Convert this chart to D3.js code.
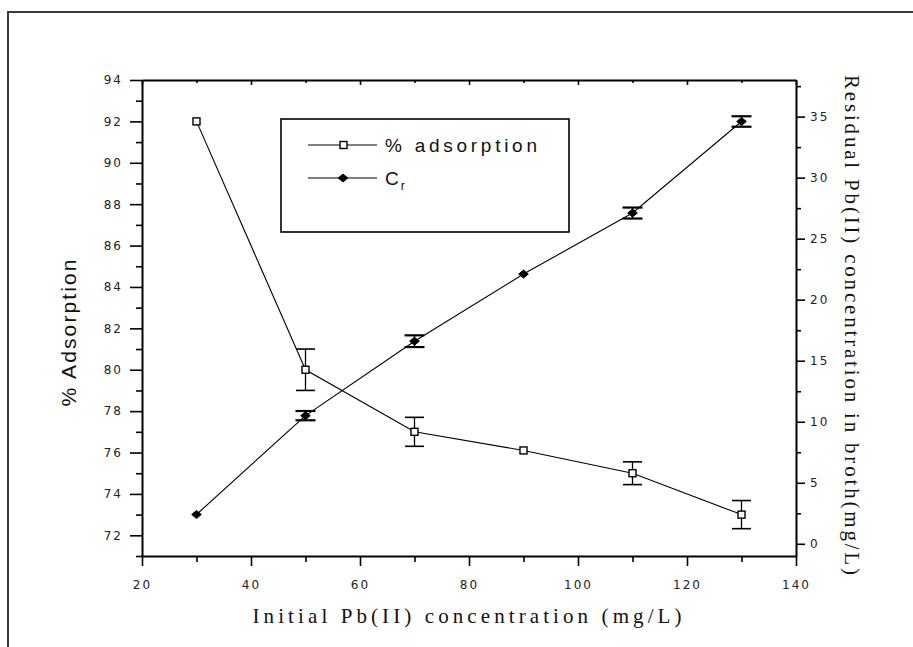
<!DOCTYPE html>
<html>
<head>
<meta charset="utf-8">
<script src="https://cdn.jsdelivr.net/npm/d3@7"></script>
<style>
  body { margin: 0; background: #fff; }
  .tick text { font-family: "DejaVu Sans", sans-serif; font-size: 12px; letter-spacing: 2px; fill: #222; }
</style>
</head>
<body>
<div id="chart"></div>
<script>
// data
const concentration = [30, 50, 70, 90, 110, 130];
const adsorption = [92.0, 80.0, 77.0, 76.1, 75.0, 73.0];
const adsorptionErr = [0, 1.0, 0.7, 0, 0.55, 0.68];
const residual = [2.4, 10.5, 16.6, 22.1, 27.1, 34.6];
const residualErr = [0, 0.38, 0.48, 0, 0.45, 0.43];

const xTicks = [20, 40, 60, 80, 100, 120, 140];
const xMinor = [30, 50, 70, 90, 110, 130];
const leftTicks = [72, 74, 76, 78, 80, 82, 84, 86, 88, 90, 92, 94];
const leftMinor = [71, 73, 75, 77, 79, 81, 83, 85, 87, 89, 91, 93];
const rightTicks = [0, 5, 10, 15, 20, 25, 30, 35];
const rightMinor = [2.5, 7.5, 12.5, 17.5, 22.5, 27.5, 32.5, 37.5];

const W = 913, H = 647;
const plot = { left: 142, right: 796, top: 80, bottom: 556 };

const svg = d3.select('#chart')
    .append('svg')
    .attr('width', W)
    .attr('height', H);

// outer frame (runs off the right and bottom edges)
svg.append('rect')
    .attr('x', 8).attr('y', 12)
    .attr('width', 960).attr('height', 700)
    .attr('fill', 'none')
    .attr('stroke', '#3a3a3a')
    .attr('stroke-width', 2);

const x = d3.scaleLinear().domain([20, 140]).range([plot.left, plot.right]);
const yL = d3.scaleLinear().domain([71, 94]).range([plot.bottom, plot.top]);
const yR = d3.scaleLinear().domain([-1, 38]).range([plot.bottom, plot.top]);

function minorAxis(axis, vals, size, tx, ty) {
    const g = svg.append('g')
        .attr('transform', `translate(${tx},${ty})`)
        .call(axis.tickValues(vals).tickSize(size).tickFormat(''));
    g.select('.domain').remove();
    g.selectAll('line').attr('stroke', '#000').attr('stroke-width', 1.6);
    return g;
}

// bottom axis
const gx = svg.append('g')
    .attr('transform', `translate(0,${plot.bottom})`)
    .call(d3.axisBottom(x).tickValues(xTicks).tickSize(10).tickPadding(14).tickSizeOuter(0));
minorAxis(d3.axisBottom(x), xMinor, 6, 0, plot.bottom);

// top axis, ticks point inward
const gt = svg.append('g')
    .attr('transform', `translate(0,${plot.top})`)
    .call(d3.axisTop(x).tickValues(xTicks).tickSize(-5).tickFormat('').tickSizeOuter(0));
minorAxis(d3.axisTop(x), xMinor, -3, 0, plot.top);

// left axis
const gl = svg.append('g')
    .attr('transform', `translate(${plot.left},0)`)
    .call(d3.axisLeft(yL).tickValues(leftTicks).tickSize(12).tickPadding(7).tickSizeOuter(0));
minorAxis(d3.axisLeft(yL), leftMinor, 6, plot.left, 0);

// right axis
const gr = svg.append('g')
    .attr('transform', `translate(${plot.right},0)`)
    .call(d3.axisRight(yR).tickValues(rightTicks).tickSize(9).tickPadding(5).tickSizeOuter(0));
minorAxis(d3.axisRight(yR), rightMinor, 5, plot.right, 0);

[gx, gt, gl, gr].forEach(g => {
    g.select('.domain').attr('stroke', '#000').attr('stroke-width', 2);
    g.selectAll('.tick line').attr('stroke', '#000').attr('stroke-width', 1.6);
});

// error bars
function errorBars(vals, errs, y, capW, sw) {
    const idx = d3.range(vals.length).filter(i => errs[i] > 0);
    const g = svg.append('g').attr('stroke', '#000').attr('stroke-width', sw);
    g.selectAll('line.v').data(idx).enter().append('line')
        .attr('x1', i => x(concentration[i])).attr('x2', i => x(concentration[i]))
        .attr('y1', i => y(vals[i] - errs[i])).attr('y2', i => y(vals[i] + errs[i]))
        .attr('stroke-width', 1.3);
    g.selectAll('line.top').data(idx).enter().append('line')
        .attr('x1', i => x(concentration[i]) - capW).attr('x2', i => x(concentration[i]) + capW)
        .attr('y1', i => y(vals[i] + errs[i])).attr('y2', i => y(vals[i] + errs[i]));
    g.selectAll('line.bot').data(idx).enter().append('line')
        .attr('x1', i => x(concentration[i]) - capW).attr('x2', i => x(concentration[i]) + capW)
        .attr('y1', i => y(vals[i] - errs[i])).attr('y2', i => y(vals[i] - errs[i]));
}

const line = d3.line();

// % adsorption series
svg.append('path')
    .attr('d', line(concentration.map((c, i) => [x(c), yL(adsorption[i])])))
    .attr('fill', 'none').attr('stroke', '#000').attr('stroke-width', 1.1);
errorBars(adsorption, adsorptionErr, yL, 9.5, 1.6);

// C_r series
svg.append('path')
    .attr('d', line(concentration.map((c, i) => [x(c), yR(residual[i])])))
    .attr('fill', 'none').attr('stroke', '#000').attr('stroke-width', 1.1);
errorBars(residual, residualErr, yR, 10, 2.2);

const diamond = 'M-4.8,0 L0,-4 L4.8,0 L0,4 Z';

svg.append('g').selectAll('path')
    .data(concentration)
    .enter().append('path')
    .attr('d', diamond)
    .attr('transform', (c, i) => `translate(${x(c)},${yR(residual[i])})`)
    .attr('fill', '#000').attr('stroke', '#000').attr('stroke-width', 1);

svg.append('g').selectAll('rect')
    .data(concentration)
    .enter().append('rect')
    .attr('x', c => x(c) - 3.5)
    .attr('y', (c, i) => yL(adsorption[i]) - 3.5)
    .attr('width', 7).attr('height', 7)
    .attr('fill', '#fff').attr('stroke', '#000').attr('stroke-width', 1.4);

// legend
const lg = svg.append('g');
lg.append('rect')
    .attr('x', 281).attr('y', 119).attr('width', 288).attr('height', 113)
    .attr('fill', '#fff').attr('stroke', '#000').attr('stroke-width', 1.6);
lg.append('line').attr('x1', 308).attr('x2', 377).attr('y1', 145).attr('y2', 145)
    .attr('stroke', '#000').attr('stroke-width', 1.2);
lg.append('rect').attr('x', 340).attr('y', 141.5).attr('width', 7).attr('height', 7)
    .attr('fill', '#fff').attr('stroke', '#000').attr('stroke-width', 1.4);
lg.append('line').attr('x1', 308).attr('x2', 377).attr('y1', 178).attr('y2', 178)
    .attr('stroke', '#000').attr('stroke-width', 1.2);
lg.append('path').attr('d', diamond).attr('transform', 'translate(343,178)')
    .attr('fill', '#000').attr('stroke', '#000');
lg.append('text')
    .attr('x', 385).attr('y', 152)
    .attr('font-family', '"Liberation Sans", Arial, sans-serif')
    .attr('font-size', 19)
    .attr('textLength', 152).attr('lengthAdjust', 'spacing')
    .attr('fill', '#111')
    .text('% adsorption');
const cr = lg.append('text')
    .attr('x', 385).attr('y', 185)
    .attr('font-family', '"Liberation Sans", Arial, sans-serif')
    .attr('font-size', 19)
    .attr('fill', '#111');
cr.append('tspan').text('C');
cr.append('tspan').attr('dx', 2).attr('dy', 5).attr('font-size', 12).text('r');

// axis titles
svg.append('text')
    .attr('transform', 'translate(76,333) rotate(-90)')
    .attr('text-anchor', 'middle')
    .attr('font-family', '"Liberation Sans", Arial, sans-serif')
    .attr('font-size', 21)
    .attr('textLength', 147).attr('lengthAdjust', 'spacing')
    .attr('fill', '#111')
    .text('% Adsorption');

svg.append('text')
    .attr('x', 467).attr('y', 623)
    .attr('text-anchor', 'middle')
    .attr('font-family', '"Liberation Serif", "Times New Roman", serif')
    .attr('font-size', 21)
    .attr('textLength', 429).attr('lengthAdjust', 'spacing')
    .attr('fill', '#111')
    .text('Initial Pb(II) concentration (mg/L)');

svg.append('text')
    .attr('transform', 'translate(845,325) rotate(90)')
    .attr('text-anchor', 'middle')
    .attr('font-family', '"Liberation Serif", "Times New Roman", serif')
    .attr('font-size', 21)
    .attr('textLength', 500).attr('lengthAdjust', 'spacing')
    .attr('fill', '#111')
    .text('Residual Pb(II) concentration in broth(mg/L)');
</script>
</body>
</html>
